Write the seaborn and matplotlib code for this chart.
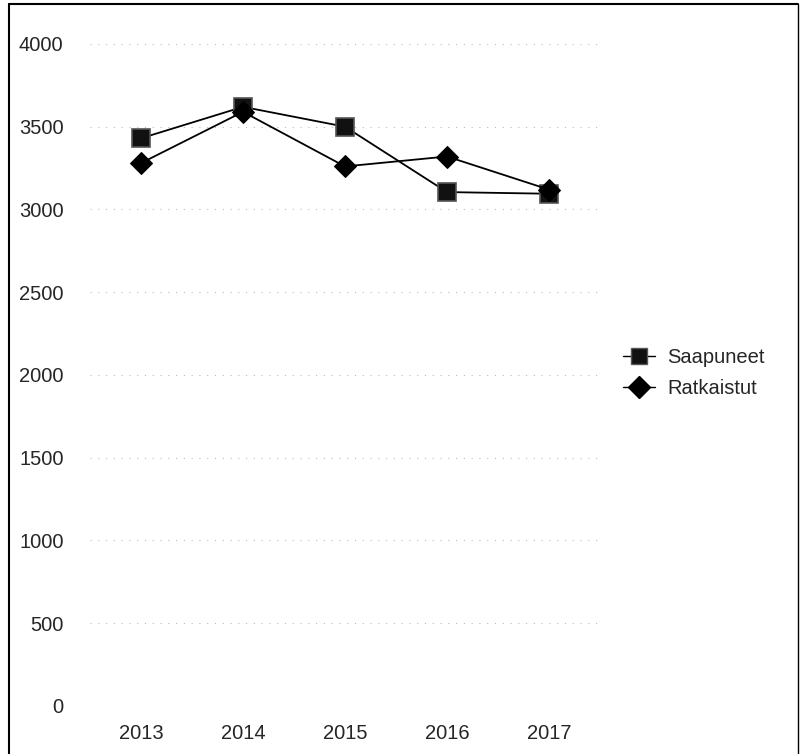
import pandas as pd
import numpy as np
import matplotlib
matplotlib.use("Agg")
import matplotlib.pyplot as plt
from matplotlib.lines import Line2D
import seaborn as sns

years = ["2013", "2014", "2015", "2016", "2017"]
saapuneet = [3430, 3620, 3500, 3105, 3095]
ratkaistut = [3280, 3590, 3260, 3320, 3120]
yticks = [0, 500, 1000, 1500, 2000, 2500, 3000, 3500, 4000]

df = pd.DataFrame({"vuosi": years * 2,
                   "arvo": saapuneet + ratkaistut,
                   "sarja": ["Saapuneet"] * len(years) + ["Ratkaistut"] * len(years)})

sns.set_style("white")
plt.rcParams['font.family'] = ['Liberation Sans', 'DejaVu Sans']

fig = plt.figure(figsize=(8, 7.54), dpi=100)
ax = fig.add_axes([0.1125, 0.0637, 0.6375, 0.878])

sns.lineplot(data=df[df.sarja == "Saapuneet"], x="vuosi", y="arvo", ax=ax,
             color="black", lw=1.3, marker="s", markersize=13.5,
             markerfacecolor="#111111", markeredgecolor="#555555", markeredgewidth=1.2)
sns.lineplot(data=df[df.sarja == "Ratkaistut"], x="vuosi", y="arvo", ax=ax,
             color="black", lw=1.3, marker="D", markersize=11.5,
             markerfacecolor="black", markeredgecolor="black")

ax.set_xlim(-0.5, 4.5)
ax.set_ylim(0, 4000)
ax.set_yticks(yticks)
ax.set_xlabel("")
ax.set_ylabel("")
for s in ax.spines.values():
    s.set_visible(False)
ax.grid(axis="y", color="#bbbbbb", lw=0.8, linestyle=(0, (1, 6)))
ax.tick_params(axis="y", length=0, pad=19, labelsize=14.5)
ax.tick_params(axis="x", length=0, pad=13, labelsize=14.5)
for lab in ax.get_yticklabels():
    lab.set_horizontalalignment("right")

handles = [Line2D([], [], color="black", lw=1.0, marker="s", markersize=12,
                  markerfacecolor="#111111", markeredgecolor="#555555"),
           Line2D([], [], color="black", lw=1.0, marker="D", markersize=11,
                  markerfacecolor="black", markeredgecolor="black")]
fig.legend(handles, ["Saapuneet", "Ratkaistut"], loc="center left",
           bbox_to_anchor=(0.756, 0.505), frameon=False, fontsize=14.5,
           handlelength=1.6, handletextpad=0.6, labelspacing=0.6)

# scan frame
fig.add_artist(Line2D([0.011, 0.011], [0, 0.995], transform=fig.transFigure, color="black", lw=1.5))
fig.add_artist(Line2D([0.011, 0.997], [0.995, 0.995], transform=fig.transFigure, color="black", lw=1.5))
fig.add_artist(Line2D([0.997, 0.997], [0, 0.995], transform=fig.transFigure, color="black", lw=1.0))

fig.savefig("out.png", dpi=100)
